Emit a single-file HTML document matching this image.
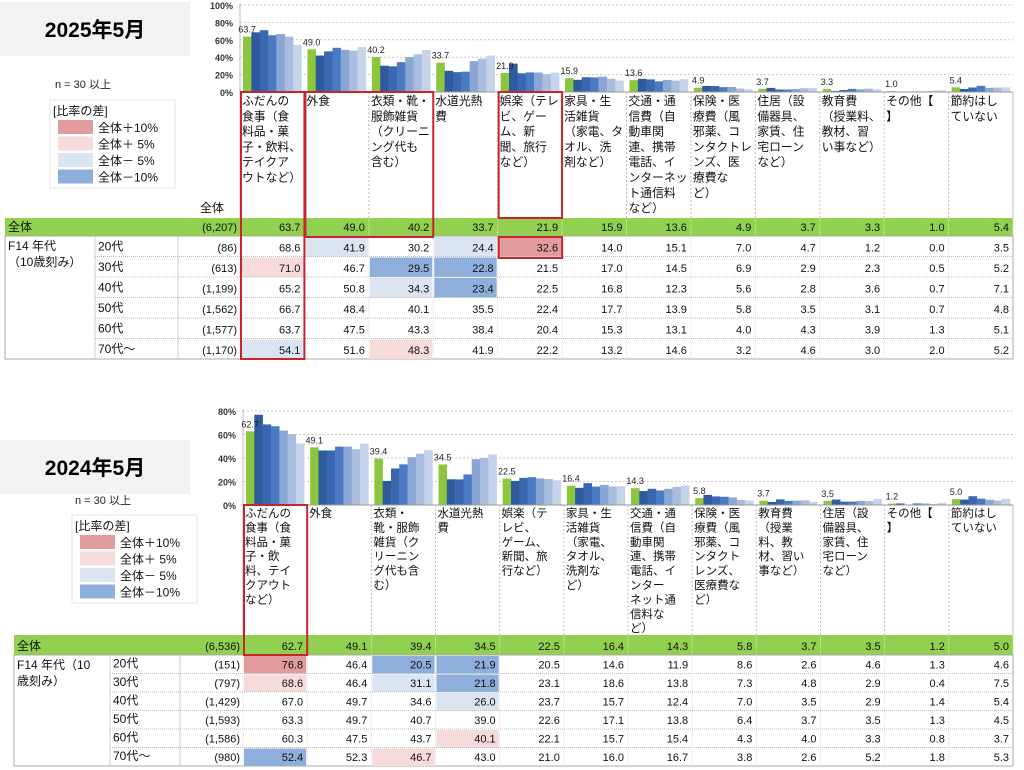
<!DOCTYPE html>
<html><head><meta charset="utf-8">
<style>
html,body{margin:0;padding:0;background:#fff;width:1024px;height:770px;overflow:hidden}
svg{display:block}
text{font-family:"Liberation Sans","Noto Sans CJK JP",sans-serif}
</style></head>
<body>
<svg id="root" width="1024" height="770" viewBox="0 0 1024 770" xmlns="http://www.w3.org/2000/svg"></svg>
<script>
// ===== DATA: 2025年5月 =====
const cats2025 = [
 ["ふだんの","食事（食","料品・菓","子・飲料、","テイクア","ウトなど）"],
 ["外食"],
 ["衣類・靴・","服飾雑貨","（クリーニ","ング代も","含む）"],
 ["水道光熱","費"],
 ["娯楽（テレ","ビ、ゲー","ム、新","聞、旅行","など）"],
 ["家具・生","活雑貨","（家電、タ","オル、洗","剤など）"],
 ["交通・通","信費（自","動車関","連、携帯","電話、イ","ンターネッ","ト通信料","など）"],
 ["保険・医","療費（風","邪薬、コ","ンタクトレ","ンズ、医","療費な","ど）"],
 ["住居（設","備器具、","家賃、住","宅ローン","など）"],
 ["教育費","（授業料、","教材、習","い事など）"],
 ["その他【","】"],
 ["節約はし","ていない"]
];
const ages2025 = ["20代","30代","40代","50代","60代","70代～"];
const nTotal2025 = "(6,207)";
const nAges2025 = ["(86)","(613)","(1,199)","(1,562)","(1,577)","(1,170)"];
const total2025 = [63.7,49.0,40.2,33.7,21.9,15.9,13.6,4.9,3.7,3.3,1.0,5.4];
const r20_2025 = [68.6,41.9,30.2,24.4,32.6,14.0,15.1,7.0,4.7,1.2,0.0,3.5];
const r30_2025 = [71.0,46.7,29.5,22.8,21.5,17.0,14.5,6.9,2.9,2.3,0.5,5.2];
const r40_2025 = [65.2,50.8,34.3,23.4,22.5,16.8,12.3,5.6,2.8,3.6,0.7,7.1];
const r50_2025 = [66.7,48.4,40.1,35.5,22.4,17.7,13.9,5.8,3.5,3.1,0.7,4.8];
const r60_2025 = [63.7,47.5,43.3,38.4,20.4,15.3,13.1,4.0,4.3,3.9,1.3,5.1];
const r70_2025 = [54.1,51.6,48.3,41.9,22.2,13.2,14.6,3.2,4.6,3.0,2.0,5.2];
// shading: 2=+10, 1=+5, -1=-5, -2=-10
const shade2025 = [
 [0,-1,0,-1,2,0,0,0,0,0,0,0],
 [1,0,-2,-2,0,0,0,0,0,0,0,0],
 [0,0,-1,-2,0,0,0,0,0,0,0,0],
 [0,0,0,0,0,0,0,0,0,0,0,0],
 [0,0,0,0,0,0,0,0,0,0,0,0],
 [-1,0,1,0,0,0,0,0,0,0,0,0]
];
const ticks2025 = ["0%","20%","40%","60%","80%","100%"];

// ===== DATA: 2024年5月 =====
const cats2024 = [
 ["ふだんの","食事（食","料品・菓","子・飲","料、テイ","クアウト","など）"],
 ["外食"],
 ["衣類・","靴・服飾","雑貨（ク","リーニン","グ代も含","む）"],
 ["水道光熱","費"],
 ["娯楽（テ","レビ、","ゲーム、","新聞、旅","行など）"],
 ["家具・生","活雑貨","（家電、","タオル、","洗剤な","ど）"],
 ["交通・通","信費（自","動車関","連、携帯","電話、イ","ンター","ネット通","信料な","ど）"],
 ["保険・医","療費（風","邪薬、コ","ンタクト","レンズ、","医療費な","ど）"],
 ["教育費","（授業","料、教","材、習い","事など）"],
 ["住居（設","備器具、","家賃、住","宅ローン","など）"],
 ["その他【","】"],
 ["節約はし","ていない"]
];
const ages2024 = ["20代","30代","40代","50代","60代","70代～"];
const nTotal2024 = "(6,536)";
const nAges2024 = ["(151)","(797)","(1,429)","(1,593)","(1,586)","(980)"];
const total2024 = [62.7,49.1,39.4,34.5,22.5,16.4,14.3,5.8,3.7,3.5,1.2,5.0];
const r20_2024 = [76.8,46.4,20.5,21.9,20.5,14.6,11.9,8.6,2.6,4.6,1.3,4.6];
const r30_2024 = [68.6,46.4,31.1,21.8,23.1,18.6,13.8,7.3,4.8,2.9,0.4,7.5];
const r40_2024 = [67.0,49.7,34.6,26.0,23.7,15.7,12.4,7.0,3.5,2.9,1.4,5.4];
const r50_2024 = [63.3,49.7,40.7,39.0,22.6,17.1,13.8,6.4,3.7,3.5,1.3,4.5];
const r60_2024 = [60.3,47.5,43.7,40.1,22.1,15.7,15.4,4.3,4.0,3.3,0.8,3.7];
const r70_2024 = [52.4,52.3,46.7,43.0,21.0,16.0,16.7,3.8,2.6,5.2,1.8,5.3];
const shade2024 = [
 [2,0,-2,-2,0,0,0,0,0,0,0,0],
 [1,0,-1,-2,0,0,0,0,0,0,0,0],
 [0,0,0,-1,0,0,0,0,0,0,0,0],
 [0,0,0,0,0,0,0,0,0,0,0,0],
 [0,0,0,1,0,0,0,0,0,0,0,0],
 [-2,0,1,0,0,0,0,0,0,0,0,0]
];
const ticks2024 = ["0%","20%","40%","60%","80%"];

const NS="http://www.w3.org/2000/svg";
const root=document.getElementById('root');
const barColors=["#8cc63f","#2f5a9c","#3a68b0","#4a7bc2","#8aa6d5","#a9bde0","#c6d3eb"];
const shadeColors={"2":"#e39c9e","1":"#f7dada","-1":"#dbe5f2","-2":"#8eaedb"};
function mk(tag,attrs,parent){const e=document.createElementNS(NS,tag);for(const k in attrs)e.setAttribute(k,attrs[k]);(parent||root).appendChild(e);return e;}
function txt(s,x,y,size,attrs,parent){const t=mk('text',Object.assign({x:x,y:y,'font-size':size,fill:'#111'},attrs||{}),parent);t.textContent=s;return t;}

function drawBlock(cfg){
  const g=mk('g',{});
  
  
  const colX0=cfg.colX0, colX1=1013, nc=cfg.cats.length, colW=(colX1-colX0)/nc;
  const colX=i=>colX0+i*colW;
  const yScale=v=>cfg.y0-v*cfg.pxPer;
  const tb=mk('rect',{x:0,y:cfg.titleY,width:190,height:54,fill:'#f2f2f2'},g);
  
  const tt=txt(cfg.title,95,cfg.titleY+35,21,{'font-weight':'bold','text-anchor':'middle',fill:'#000'},g);
  
  const nt=txt("n = 30 以上",cfg.nX,cfg.nY,11,{fill:'#222'},g);
  
  const lg=mk('g',{},g);
  
  mk('rect',{x:cfg.legX,y:cfg.legY,width:125,height:88,fill:'#fff',stroke:'#e4e4e4'},lg);
  txt("[比率の差]",cfg.legX+3,cfg.legY+15,12,{},lg);
  const legLabels=["全体＋10%","全体＋ 5%","全体－ 5%","全体－10%"],legKeys=["2","1","-1","-2"];
  legLabels.forEach((l,i)=>{
    const e=mk('g',{},lg);
    
    mk('rect',{x:cfg.legX+8,y:cfg.legY+20+i*16.5,width:35,height:14,fill:shadeColors[legKeys[i]]},e);
    txt(l,cfg.legX+48,cfg.legY+32+i*16.5,12,{},e);
  });
  cfg.ticks.forEach((t,i)=>{
    const v=i*20,y=yScale(v);
    if(v>0){const gl=mk('line',{x1:colX0,x2:colX1,y1:y,y2:y,stroke:'#c8c8c8','stroke-dasharray':'2,2'},g);
      }
    const tl=txt(t,colX0-7,y+4,9,{'text-anchor':'end','font-family':'Liberation Mono,monospace','font-weight':'bold',fill:'#333'},g);
    
  });
  mk('line',{x1:colX0,x2:colX0,y1:yScale(cfg.ticks.length*20-20)-2,y2:cfg.y0,stroke:'#bbb'},g);
  const series=[cfg.total].concat(cfg.rows);
  const bw=(colW-6)/7;
  for(let c=0;c<nc;c++){
    const bg=mk('g',{},g);
    
    series.forEach((s,k)=>{
      const b=mk('rect',{x:colX(c)+3+k*bw,y:yScale(s[c]),width:bw+0.3,height:s[c]*cfg.pxPer,fill:barColors[k]},bg);
      
    });
    const vl=txt(cfg.total[c].toFixed(1),colX(c)+3+bw/2,yScale(cfg.total[c])-4,9,{'text-anchor':'middle','font-family':'Liberation Mono,monospace',fill:'#222'},bg);
    
  }
  const hTop=cfg.y0, hBot=cfg.tTop;
  mk('line',{x1:colX0,x2:colX1,y1:hTop,y2:hTop,stroke:'#999'},g);
  for(let c=0;c<=nc;c++){mk('line',{x1:colX(c),x2:colX(c),y1:hTop,y2:hBot,stroke:'#bbb','stroke-dasharray':c==0||c==nc?'':'2,2'},g);}
  cfg.cats.forEach((lines,c)=>{
    const t=txt('',colX(c)+2,hTop+cfg.hFirst,cfg.hSize,{fill:'#111'},g);
    
    lines.forEach((l,i)=>{const ts=mk('tspan',{x:colX(c)+2,dy:i==0?0:cfg.hLine},t);ts.textContent=l;});
  });
  if(cfg.showZentai){const z=txt("全体",colX0-40,hBot-6,12,{},g);}
  const tb2=mk('g',{},g);
  
  const L=cfg.tLeft, c1=cfg.tC1, c2=cfg.tC2;
  const rowH=cfg.rowH, totH=cfg.totH;
  const numFont=cfg.mono?'Liberation Mono,monospace':'Liberation Sans,sans-serif';
  const tr=mk('rect',{x:L,y:hBot,width:colX1-L,height:totH,fill:'#92d050'},tb2);
  
  txt("全体",L+3,hBot+totH-5,12,{},tb2);
  txt(cfg.nTotal,colX0-3,hBot+totH-5,11,{'text-anchor':'end','font-family':numFont},tb2);
  for(let c=0;c<nc;c++){
    txt(cfg.total[c].toFixed(1),colX(c+1)-4,hBot+totH-5,11,{'text-anchor':'end','font-family':numFont},tb2);
    mk('line',{x1:colX(c+1),x2:colX(c+1),y1:hBot,y2:hBot+totH,stroke:'#d8eebb','stroke-dasharray':'1,1'},tb2);
  }
  const rTop=hBot+totH;
  mk('rect',{x:L,y:rTop,width:colX1-L,height:rowH*6,fill:'none',stroke:'#aaa'},tb2);
  txt(cfg.grpLabel[0],L+3,rTop+14,12,{},tb2);
  txt(cfg.grpLabel[1],L+3,rTop+30,12,{},tb2);
  mk('line',{x1:c1,x2:c1,y1:rTop,y2:rTop+rowH*6,stroke:'#ccc'},tb2);
  mk('line',{x1:c2,x2:c2,y1:rTop,y2:rTop+rowH*6,stroke:'#ccc'},tb2);
  cfg.rows.forEach((row,r)=>{
    const y=rTop+r*rowH;
    const rg=mk('g',{},tb2);
    
    row.forEach((v,c)=>{
      const s=cfg.shade[r][c];
      if(s){const sr=mk('rect',{x:colX(c)+1,y:y+1,width:colW-2,height:rowH-1,fill:shadeColors[String(s)]},rg);
        }
      txt(v.toFixed(1),colX(c+1)-4,y+rowH-5,11,{'text-anchor':'end','font-family':numFont},rg);
    });
    txt(cfg.ages[r],c1+3,y+rowH-6,12,{},rg);
    txt(cfg.nAges[r],colX0-3,y+rowH-5,11,{'text-anchor':'end','font-family':numFont},rg);
    if(r>0)mk('line',{x1:c1,x2:colX1,y1:y,y2:y,stroke:'#bbb','stroke-dasharray':'1,1'},rg);
  });
  for(let c=0;c<nc;c++)mk('line',{x1:colX(c),x2:colX(c),y1:rTop,y2:rTop+rowH*6,stroke:'#ddd','stroke-dasharray':'1,1'},tb2);
  cfg.boxes.forEach(b=>{
    const rb=mk('rect',{x:colX(b[0])+1,y:b[2],width:colW*(b[1]-b[0])-1,height:b[3]-b[2],fill:'none',stroke:'#c8252a','stroke-width':2},g);
    
  });
}

drawBlock({name:'chart-2025',title:'2025年5月',titleY:2,nX:55,nY:88,legX:50,legY:100,
  colX0:240,y0:92,pxPer:0.87,ticks:ticks2025,cats:cats2025,hFirst:13,hLine:15.3,hSize:11.8,tTop:218,
  showZentai:true,tLeft:5,tC1:95,tC2:178,rowH:20.5,totH:18,mono:false,grpLabel:["F14 年代","（10歳刻み）"],
  nTotal:nTotal2025,nAges:nAges2025,ages:ages2025,total:total2025,
  rows:[r20_2025,r30_2025,r40_2025,r50_2025,r60_2025,r70_2025],shade:shade2025,
  boxes:[[0,1,92,359],[1,3,92,237],[4,5,92,218],[4,5,237,258]]});

drawBlock({name:'chart-2024',title:'2024年5月',titleY:440,nX:75,nY:504,legX:72,legY:515,
  colX0:243,y0:505,pxPer:1.175,ticks:ticks2024,cats:cats2024,hFirst:12,hLine:14.4,hSize:11.5,tTop:635,
  showZentai:false,tLeft:14,tC1:110,tC2:180,rowH:18.5,totH:20,mono:true,grpLabel:["F14 年代（10","歳刻み）"],
  nTotal:nTotal2024,nAges:nAges2024,ages:ages2024,total:total2024,
  rows:[r20_2024,r30_2024,r40_2024,r50_2024,r60_2024,r70_2024],shade:shade2024,
  boxes:[[0,1,505,655]]});
</script>
</body></html>
